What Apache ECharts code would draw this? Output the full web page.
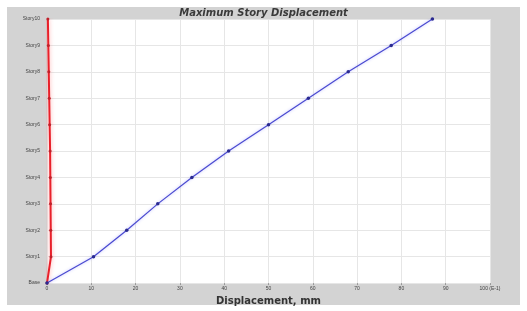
<!DOCTYPE html>
<html>
<head>
<meta charset="utf-8">
<style>
  html, body { margin: 0; padding: 0; background: #fff; }
  #chart { width: 527px; height: 311px; }
</style>
<script src="https://cdn.jsdelivr.net/npm/echarts@6/dist/echarts.min.js"></script>
</head>
<body>
<div id="chart"></div>
<script>
// story levels, bottom to top
var stories = ['Base', 'Story1', 'Story2', 'Story3', 'Story4', 'Story5',
    'Story6', 'Story7', 'Story8', 'Story9', 'Story10'];

// x direction displacement (blue)
var dispX = [0, 10.5, 18, 25, 32.7, 41, 50, 59, 68, 77.7, 87];

// y direction displacement (red)
var dispY = [0, 0.9, 0.85, 0.8, 0.75, 0.7, 0.6, 0.5, 0.4, 0.3, 0.2];

var xTicks = ['0', '10', '20', '30', '40', '50', '60', '70', '80', '90', '100 (E-1)'];

var chart = echarts.init(document.getElementById('chart'));

chart.setOption({
    backgroundColor: '#fff',
    animation: false,
    graphic: [{
        type: 'rect',
        z: -10,
        shape: { x: 7, y: 7, width: 513, height: 298 },
        style: { fill: '#d3d3d3' }
    }],
    title: {
        text: 'Maximum Story Displacement',
        left: 'center',
        top: 3,
        textStyle: { fontSize: 10, fontStyle: 'italic', fontWeight: 'bold', color: '#3a3a3a', fontFamily: 'DejaVu Sans' }
    },
    grid: {
        left: 47, right: 37, top: 19, bottom: 23,
        show: true, backgroundColor: '#fff', borderWidth: 0
    },
    xAxis: {
        type: 'value',
        min: 0, max: 100, interval: 10,
        name: 'Displacement, mm',
        nameLocation: 'middle',
        nameGap: 12,
        nameTextStyle: { fontSize: 10, fontWeight: 'bold', color: '#333', fontFamily: 'DejaVu Sans' },
        axisLine: { show: false },
        axisTick: { show: true, length: 2, lineStyle: { color: '#999' } },
        axisLabel: {
            fontSize: 5, color: '#444', margin: 3,
            formatter: function (v) { return xTicks[Math.round(v / 10)]; }
        },
        splitLine: { lineStyle: { color: '#e6e6e6' } }
    },
    yAxis: {
        type: 'category',
        data: stories,
        boundaryGap: false,
        axisLine: { show: false },
        axisTick: { show: false },
        axisLabel: { fontSize: 5, color: '#444', margin: 7 },
        splitLine: { show: true, lineStyle: { color: '#e6e6e6' } }
    },
    series: [{
        type: 'line',
        data: dispY,
        symbol: 'circle',
        symbolSize: 3,
        itemStyle: { color: '#c0202a' },
        lineStyle: { color: '#e8202a', width: 2, shadowColor: 'rgba(255,80,80,0.5)', shadowBlur: 4 }
    }, {
        type: 'line',
        data: dispX,
        symbol: 'circle',
        symbolSize: 3.5,
        itemStyle: { color: '#2a2a90' },
        lineStyle: { color: '#4b4bd0', width: 1.2, shadowColor: 'rgba(90,90,255,0.4)', shadowBlur: 3 }
    }]
});
</script>
</body>
</html>
